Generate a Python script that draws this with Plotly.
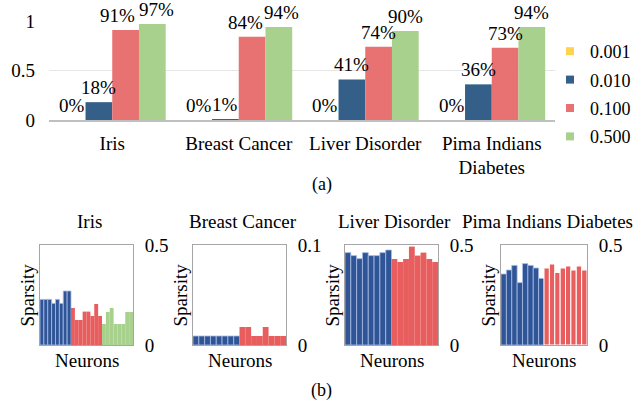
import plotly.graph_objects as go

# ---------------- data: (a) accuracy by learning rate ----------------
datasets = ["Iris", "Breast Cancer", "Liver Disorder", "Pima Indians<br>Diabetes"]
rates = ["0.001", "0.010", "0.100", "0.500"]
acc_0001 = [0.00, 0.00, 0.00, 0.00]
acc_0010 = [0.18, 0.01, 0.41, 0.36]
acc_0100 = [0.91, 0.84, 0.74, 0.73]
acc_0500 = [0.97, 0.94, 0.90, 0.94]

# ---------------- data: (b) per-neuron sparsity ----------------
panel_titles = ["Iris", "Breast Cancer", "Liver Disorder", "Pima Indians Diabetes"]
panel_max = [0.5, 0.1, 0.5, 0.5]
iris_blue = [0.228, 0.228, 0.228, 0.208, 0.228, 0.208, 0.270, 0.270]
iris_red = [0.185, 0.125, 0.125, 0.167, 0.167, 0.145, 0.205, 0.145]
iris_green = [0.105, 0.165, 0.185, 0.105, 0.105, 0.105, 0.165, 0.165]
breast_blue = [0.009, 0.009, 0.009, 0.009, 0.009, 0.009, 0.009, 0.009]
breast_red = [0.018, 0.018, 0.009, 0.009, 0.018, 0.009, 0.009, 0.009]
liver_blue = [0.462, 0.447, 0.432, 0.462, 0.447, 0.447, 0.462, 0.475]
liver_red = [0.430, 0.415, 0.430, 0.492, 0.447, 0.462, 0.430, 0.415]
pima_blue = [0.355, 0.375, 0.398, 0.312, 0.407, 0.398, 0.385, 0.333]
pima_red = [0.385, 0.405, 0.363, 0.385, 0.395, 0.375, 0.395, 0.375]

FONT = "Liberation Serif"
TOP_COLORS = ["#FFD34E", "#335F88", "#E87171", "#A9D18E"]
BOT_COLORS = ["#2F5597", "#E85D5D", "#A9D18E"]
W, H = 634, 410
TOP_X0, TOP_X1 = 49, 555
BARGAP = 0.155
# manual nudges of a few crowded value labels (dataset index, series index) -> px
LABEL_NUDGE = {(0, 2): -8, (0, 3): 4, (1, 2): -7, (1, 3): 3}

def px(v):
    return v / W

def py(v):
    return 1 - v / H

fig = go.Figure()
annotations = []

# ---- (a) grouped bars ----
cat_px = (TOP_X1 - TOP_X0) / len(datasets)
bar_px = cat_px * (1 - BARGAP) / len(rates)
all_series = [acc_0001, acc_0010, acc_0100, acc_0500]
for k, (name, vals, col) in enumerate(zip(rates, all_series, TOP_COLORS)):
    fig.add_trace(go.Bar(
        x=datasets, y=vals, name=name, marker=dict(color=col, line=dict(width=0)),
        xaxis="x", yaxis="y", showlegend=False,
    ))
    fig.add_trace(go.Scatter(
        x=[None], y=[None], mode="markers", name=name, legendgroup=name,
        marker=dict(symbol="square", size=8, color=col), xaxis="x", yaxis="y",
    ))
    for i, (cat, v) in enumerate(zip(datasets, vals)):
        annotations.append(dict(
            text=f"{v:.0%}", x=cat, y=v, xref="x", yref="y",
            xanchor="center", yanchor="bottom", showarrow=False,
            xshift=(k - (len(rates) - 1) / 2) * bar_px + LABEL_NUDGE.get((i, k), 0),
            yshift=2, font=dict(family=FONT, size=19, color="black"),
        ))

# ---- (b) small multiples ----
panel_series = [
    [iris_blue, iris_red, iris_green],
    [breast_blue, breast_red],
    [liver_blue, liver_red],
    [pima_blue, pima_red],
]
panel_x = [(40, 133), (193, 286), (345, 438), (501, 587)]
for i, (title, series, ymax, (x0, x1)) in enumerate(zip(panel_titles, panel_series, panel_max, panel_x)):
    ax = i + 2
    xs, ys, cols, lcols, lws = [], [], [], [], []
    pos = 0
    for k, s in enumerate(series):
        for v in s:
            xs.append(pos)
            ys.append(v)
            cols.append(BOT_COLORS[k])
            if k == 0:
                lcols.append("#A9BCE3"); lws.append(0.8)
            elif i == 3:
                lcols.append("white"); lws.append(1.0)
            else:
                lcols.append(BOT_COLORS[k]); lws.append(0)
            pos += 1
    fig.add_trace(go.Bar(
        x=xs, y=ys, width=1, offset=-0.5,
        marker=dict(color=cols, line=dict(color=lcols, width=lws)),
        xaxis=f"x{ax}", yaxis=f"y{ax}", showlegend=False,
    ))
    fig.layout[f"xaxis{ax}"] = dict(
        domain=[px(x0), px(x1)], anchor=f"y{ax}", range=[-0.5, pos - 0.5],
        showticklabels=False, showgrid=False, zeroline=False, ticks="", automargin=False,
        showline=True, mirror=True, linecolor="#A6A6A6", linewidth=1,
    )
    fig.layout[f"yaxis{ax}"] = dict(
        domain=[py(345), py(245)], anchor=f"x{ax}", side="right",
        range=[0, ymax], tickvals=[0, ymax], showgrid=False, zeroline=False,
        ticks="", ticklabelstandoff=7, automargin=False,
        showline=True, mirror=True, linecolor="#A6A6A6", linewidth=1,
        tickfont=dict(family=FONT, size=19, color="black"),
    )
    annotations.append(dict(
        text=title, xref=f"x{ax} domain", yref=f"y{ax} domain", x=0.5, y=1,
        xanchor="center", yanchor="bottom", yshift=11, xshift=3, showarrow=False,
        font=dict(family=FONT, size=19, color="black"),
    ))
    annotations.append(dict(
        text="Sparsity", xref=f"x{ax} domain", yref=f"y{ax} domain", x=0, y=0.5,
        xanchor="right", yanchor="middle", textangle=-90, xshift=-1, showarrow=False,
        font=dict(family=FONT, size=19, color="black"),
    ))
    annotations.append(dict(
        text="Neurons", xref=f"x{ax} domain", yref=f"y{ax} domain", x=0.5, y=0,
        xanchor="center", yanchor="top", yshift=-3, showarrow=False,
        font=dict(family=FONT, size=19, color="black"),
    ))

annotations.append(dict(text="(a)", xref="paper", yref="paper", x=px(322), y=py(185),
                        xanchor="center", yanchor="middle", showarrow=False,
                        font=dict(family=FONT, size=18, color="black")))
annotations.append(dict(text="(b)", xref="paper", yref="paper", x=px(322), y=py(390),
                        xanchor="center", yanchor="middle", showarrow=False,
                        font=dict(family=FONT, size=18, color="black")))

fig.update_layout(
    template="none",
    width=W, height=H, margin=dict(l=0, r=0, t=0, b=0, pad=0, autoexpand=False),
    paper_bgcolor="white", plot_bgcolor="white",
    barmode="group", bargap=BARGAP, bargroupgap=0,
    font=dict(family=FONT, size=19, color="black"),
    xaxis=dict(domain=[px(TOP_X0), px(TOP_X1)], anchor="y", showline=True, linecolor="#BFBFBF",
               linewidth=1.5, ticks="", ticklabelstandoff=5, showgrid=False, automargin=False,
               tickfont=dict(family=FONT, size=19, color="black")),
    yaxis=dict(domain=[py(120), py(21)], anchor="x", range=[0, 1], tickvals=[0, 0.5, 1],
               showgrid=True, gridcolor="#E6E6E6", gridwidth=1, zeroline=False,
               showline=False, ticks="", ticklabelstandoff=13, automargin=False,
               tickfont=dict(family=FONT, size=19, color="black")),
    legend=dict(x=px(550), y=py(33), xanchor="left", yanchor="top",
                font=dict(family=FONT, size=18, color="black"), bgcolor="rgba(0,0,0,0)",
                itemwidth=30, borderwidth=0, tracegroupgap=2),
    annotations=annotations,
)

fig.write_html(
    "out.html",
    config={"displayModeBar": False},
    post_script="document.body.style.margin='0';document.body.style.overflow='hidden';",
)
